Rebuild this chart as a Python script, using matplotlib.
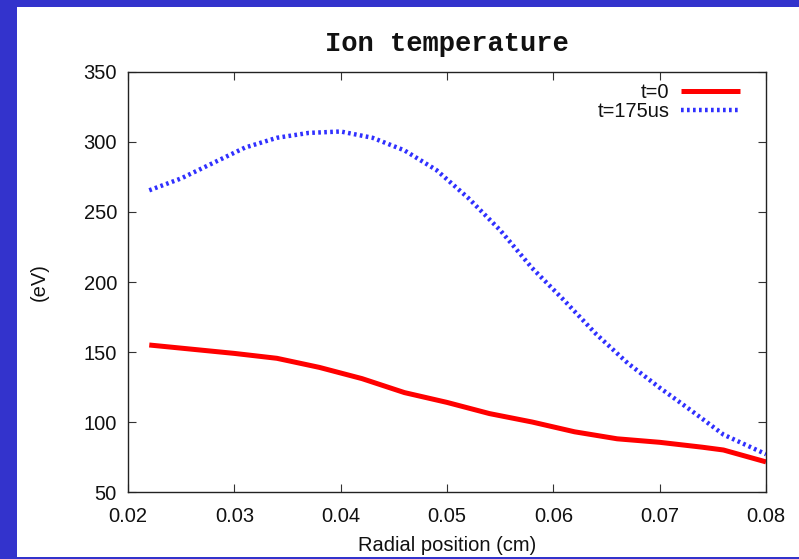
import matplotlib
matplotlib.use("Agg")
import matplotlib.pyplot as plt
from matplotlib.patches import Rectangle

# Data
x_t0 = [0.022, 0.026, 0.030, 0.034, 0.038, 0.042, 0.046, 0.050, 0.054,
        0.058, 0.062, 0.066, 0.070, 0.074, 0.076, 0.080]
t0 = [155, 152, 149, 145.5, 139, 131, 121, 114, 106, 100, 93, 88, 85.5,
      82, 80, 71.5]

x_t175 = [0.022, 0.025, 0.028, 0.031, 0.034, 0.037, 0.040, 0.043, 0.046,
          0.049, 0.052, 0.055, 0.058, 0.061, 0.064, 0.067, 0.070, 0.073,
          0.076, 0.080]
t175 = [265.5, 274, 285, 296, 303, 306.5, 307.5, 303, 294, 280, 260, 237,
        210, 187, 163, 142, 124.5, 108, 91, 77]

labels = ["t=0", "t=175us"]
xticks = [0.02, 0.03, 0.04, 0.05, 0.06, 0.07, 0.08]
yticks = [50, 100, 150, 200, 250, 300, 350]

W, H = 799, 559
fig = plt.figure(figsize=(W / 100, H / 100), dpi=100)
fig.patch.set_facecolor("#3333cc")
# white panel inside the blue frame
fig.add_artist(Rectangle((17 / W, 2 / H), 1 - 17 / W, (H - 7 - 2) / H,
                         transform=fig.transFigure, facecolor="white",
                         edgecolor="none", zorder=0))

ax = fig.add_axes([128 / W, 1 - 492 / H, (766 - 128) / W, (492 - 72) / H])
ax.set_facecolor("white")

ax.plot(x_t0, t0, color="#ff0000", lw=3.6, solid_capstyle="butt",
        label=labels[0])
ax.plot(x_t175, t175, color="#3030ff", lw=3.2, linestyle=(0, (0.6, 0.75)),
        dash_capstyle="butt", label=labels[1])

ax.set_xlim(0.02, 0.08)
ax.set_ylim(50, 350)
ax.set_xticks(xticks)
ax.set_xticklabels([f"{v:.2f}" for v in xticks])
ax.set_yticks(yticks)

FS = 14.5
tick_font = dict(family="Liberation Sans", size=FS)
for lab in ax.get_xticklabels() + ax.get_yticklabels():
    lab.set_fontfamily("Liberation Sans")
    lab.set_fontsize(FS)
    lab.set_color("#111111")
ax.tick_params(direction="in", length=6, width=0.8, top=True, right=True,
               color="#333333")
ax.tick_params(axis="y", pad=8)
ax.tick_params(axis="x", pad=11)
for s in ax.spines.values():
    s.set_linewidth(1.0)
    s.set_color("#222222")

ax.set_xlabel("Radial position (cm)", fontdict=tick_font, labelpad=7,
              color="#111111")
ax.set_ylabel("(eV)", fontdict=tick_font, labelpad=25, color="#111111")
ax.set_title("Ion temperature", family="Liberation Mono", weight="bold",
             size=19.5, pad=15, color="#111111")

leg = ax.legend(loc="upper right", frameon=False, markerfirst=False,
                prop=dict(family="Liberation Sans", size=FS),
                handlelength=2.9, handletextpad=0.6, labelspacing=0.0,
                borderaxespad=0.2, borderpad=0.4,
                bbox_to_anchor=(0.978, 1.003))
for t in leg.get_texts():
    t.set_color("#111111")

fig.savefig("out.png", dpi=100, facecolor=fig.get_facecolor())
